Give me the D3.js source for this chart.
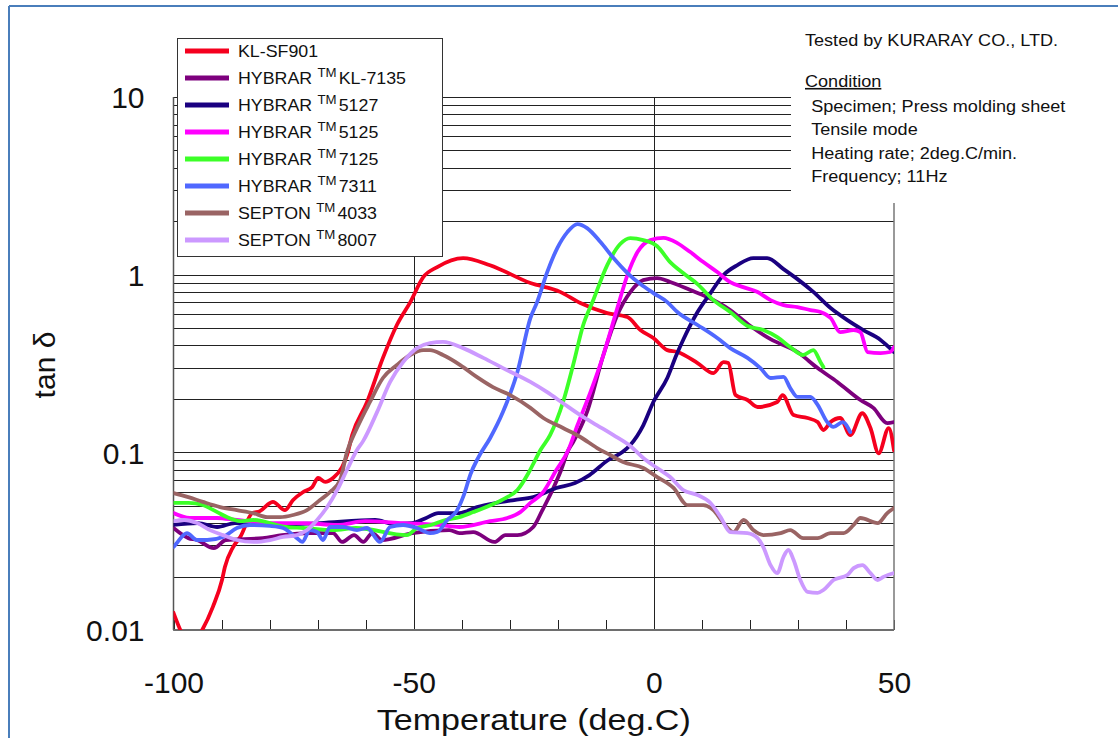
<!DOCTYPE html>
<html><head><meta charset="utf-8">
<script src="https://cdn.jsdelivr.net/npm/d3@7"></script>
<style>
body{margin:0;background:#fff}
svg{display:block;font-family:"Liberation Sans",Arial,sans-serif}
</style>
</head><body>
<svg id="c" width="1118" height="738"></svg>
<script>
// ---- data (temperature deg.C, tan delta) ----
const klsf901 = [[-100,0.0125],[-98.2,0.0095],[-96.5,0.008],[-94.5,0.0095],[-91.8,0.0135],[-89.9,0.0191],[-89.3,0.0226],[-87.6,0.0293],[-86.1,0.0334],[-83.6,0.0455],[-82.0,0.0467],[-79.9,0.0519],[-79.3,0.0526],[-76.8,0.0473],[-75.1,0.0539],[-73.0,0.0598],[-71.1,0.0638],[-69.9,0.0717],[-68.4,0.0682],[-66.8,0.0717],[-64.9,0.0827],[-63.9,0.096],[-62.8,0.125],[-59.7,0.192],[-56.4,0.340],[-53.5,0.521],[-50.7,0.701],[-48.0,0.969],[-45.1,1.104],[-39.7,1.24],[-34.1,1.13],[-25.7,0.897],[-19.5,0.80],[-15.3,0.692],[-9.7,0.608],[-5.5,0.577],[-2.8,0.488],[-0.1,0.44],[2.8,0.376],[4.9,0.367],[9.1,0.318],[12.4,0.279],[14.5,0.322],[15.5,0.318],[17.0,0.21],[19.5,0.197],[21.6,0.180],[25.7,0.192],[26.8,0.21],[29.1,0.162],[32.0,0.156],[34.1,0.148],[35.3,0.1335],[36.8,0.148],[38.8,0.156],[40.9,0.125],[43.4,0.166],[45.1,0.137],[46.8,0.0987],[48.9,0.137],[50,0.1026]];
const kl7135 = [[-100,0.0375],[-96.9,0.0329],[-95.1,0.0321],[-91.6,0.0289],[-89.1,0.0321],[-81.4,0.0329],[-77.4,0.0342],[-71.6,0.0351],[-66.8,0.0351],[-64.9,0.0313],[-62.4,0.0342],[-60.5,0.0313],[-58.6,0.0351],[-56.6,0.0321],[-50.3,0.0351],[-42.6,0.0365],[-40.5,0.0351],[-37.6,0.0356],[-33.2,0.0313],[-30.9,0.0342],[-28.4,0.0342],[-25.1,0.038],[-23.2,0.0473],[-21.1,0.0614],[-19.3,0.0795],[-17.8,0.103],[-16.8,0.1143],[-13.9,0.169],[-10.5,0.353],[-7.6,0.593],[-4.9,0.798],[-2.2,0.932],[0.7,0.957],[3.4,0.909],[7.6,0.819],[11.1,0.748],[15.9,0.632],[20.1,0.514],[24.3,0.434],[29.9,0.367],[34.1,0.298],[38.2,0.249],[43.0,0.197],[45.7,0.178],[48.6,0.146],[50,0.148]];
const h5127 = [[-100,0.039],[-94.9,0.040],[-90.9,0.038],[-87.2,0.040],[-79.9,0.039],[-69.5,0.040],[-58.0,0.0416],[-54.3,0.0396],[-50.3,0.040],[-47.4,0.0427],[-44.9,0.0455],[-40.5,0.0455],[-36.8,0.0492],[-32.8,0.0519],[-29.1,0.0539],[-25.1,0.056],[-20.3,0.063],[-16.4,0.0672],[-13.4,0.0745],[-9.5,0.0905],[-6.6,0.100],[-4.9,0.110],[-2.2,0.142],[-0.1,0.192],[2.8,0.262],[4.7,0.353],[6.1,0.429],[9.1,0.616],[11.8,0.788],[14.5,0.995],[17.4,1.132],[20.7,1.24],[23.6,1.24],[27.0,1.075],[29.9,0.944],[33.2,0.80],[36.8,0.649],[40.3,0.555],[43.6,0.488],[47.2,0.429],[50,0.367]];
const h5125 = [[-100,0.0455],[-96.6,0.0427],[-91.0,0.0427],[-86.8,0.0416],[-79.9,0.040],[-73.0,0.040],[-65.9,0.039],[-60.1,0.041],[-52.2,0.040],[-44.5,0.039],[-40.5,0.038],[-34.1,0.041],[-30.5,0.0427],[-27.8,0.0461],[-25.7,0.0519],[-23.2,0.059],[-20.3,0.0795],[-17.8,0.103],[-15.9,0.142],[-13.2,0.218],[-10.5,0.353],[-7.6,0.649],[-5.5,0.995],[-3.4,1.34],[-0.7,1.565],[2.0,1.61],[4.9,1.506],[7.6,1.34],[10.3,1.177],[13.2,1.034],[15.9,0.909],[18.6,0.851],[21.6,0.798],[24.3,0.719],[27.0,0.674],[29.9,0.657],[32.6,0.632],[34.7,0.616],[36.8,0.570],[38.8,0.475],[41.6,0.488],[43.0,0.475],[44.5,0.367],[47.2,0.362],[49.2,0.367],[50,0.391]];
const h7125 = [[-100,0.0519],[-96.9,0.0519],[-93.9,0.0505],[-90.9,0.0461],[-88.9,0.0432],[-86.1,0.041],[-83.4,0.0416],[-76.6,0.038],[-73.0,0.0375],[-66.8,0.0365],[-62.0,0.0375],[-51.4,0.0342],[-49.3,0.0375],[-46.4,0.039],[-43.4,0.0416],[-40.5,0.0432],[-37.6,0.0461],[-33.9,0.0505],[-30.9,0.0553],[-28.4,0.0614],[-26.1,0.0765],[-24.7,0.0905],[-23.6,0.103],[-21.6,0.125],[-18.9,0.192],[-16.8,0.310],[-14.7,0.521],[-12.6,0.720],[-9.7,1.132],[-7.0,1.487],[-4.9,1.607],[-2.2,1.565],[0.7,1.445],[3.4,1.177],[6.1,1.021],[9.1,0.885],[12.4,0.719],[15.9,0.616],[19.5,0.514],[22.8,0.488],[25.7,0.445],[28.4,0.391],[31.1,0.353],[33.2,0.376],[34.7,0.322],[35.3,0.302]];
const h7311 = [[-100,0.0293],[-99.3,0.0309],[-97.2,0.0351],[-95.1,0.0321],[-93.0,0.0321],[-89.7,0.0334],[-86.8,0.0375],[-84.1,0.039],[-79.9,0.0385],[-77.2,0.0375],[-74.3,0.0329],[-73.2,0.0313],[-71.6,0.0365],[-70.1,0.0356],[-68.9,0.0321],[-67.4,0.038],[-64.7,0.038],[-61.8,0.0365],[-59.7,0.0375],[-57.0,0.0313],[-54.9,0.038],[-52.2,0.039],[-49.3,0.0375],[-46.6,0.0351],[-45.1,0.0356],[-43.0,0.0416],[-41.0,0.047],[-39.5,0.058],[-38.2,0.075],[-36.5,0.094],[-34.1,0.120],[-31.4,0.169],[-28.4,0.283],[-25.7,0.570],[-24.3,0.701],[-22.2,1.034],[-20.1,1.411],[-18.0,1.736],[-15.9,1.926],[-13.9,1.829],[-11.1,1.526],[-8.4,1.24],[-5.5,1.021],[-2.8,0.885],[-0.1,0.788],[2.8,0.701],[4.9,0.616],[9.1,0.521],[13.2,0.44],[15.9,0.386],[19.5,0.340],[22.2,0.298],[24.3,0.262],[27.0,0.266],[28.4,0.230],[29.9,0.205],[32.6,0.205],[34.1,0.185],[36.1,0.148],[37.4,0.139],[39.3,0.148],[40.9,0.130]];
const s4033 = [[-100,0.059],[-96.9,0.056],[-93.9,0.0526],[-90.3,0.0492],[-86.8,0.0473],[-83.4,0.0455],[-80.5,0.0432],[-77.8,0.0432],[-75.1,0.0444],[-72.2,0.0473],[-69.5,0.0539],[-67.4,0.0598],[-65.3,0.0699],[-63.9,0.100],[-61.8,0.137],[-59.1,0.192],[-56.4,0.262],[-53.5,0.310],[-50.7,0.353],[-48.0,0.376],[-46.6,0.376],[-43.9,0.353],[-40.3,0.310],[-36.8,0.265],[-33.5,0.233],[-29.9,0.21],[-25.7,0.178],[-23.0,0.156],[-18.9,0.137],[-15.3,0.122],[-11.8,0.1057],[-9.1,0.0966],[-6.4,0.0882],[-2.2,0.0816],[0.7,0.0726],[4.1,0.063],[7.0,0.0505],[10.3,0.0505],[12.4,0.0473],[14.5,0.040],[16.6,0.0356],[18.7,0.0416],[20.7,0.0365],[22.8,0.0342],[26.4,0.0351],[28.4,0.0365],[31.1,0.0329],[34.1,0.0329],[36.8,0.0351],[39.5,0.0351],[41.6,0.039],[43.0,0.0427],[46.6,0.040],[48.6,0.0455],[50,0.0486]];
const s8007 = [[-100,0.041],[-97.8,0.0416],[-95.1,0.040],[-92.4,0.0365],[-89.7,0.0342],[-86.8,0.0321],[-83.4,0.0313],[-79.9,0.0321],[-77.2,0.0334],[-74.3,0.0342],[-72.2,0.0365],[-70.1,0.0416],[-68.0,0.0492],[-65.9,0.0614],[-63.9,0.0795],[-61.8,0.103],[-60.5,0.116],[-57.6,0.169],[-54.9,0.249],[-52.2,0.322],[-49.3,0.386],[-46.6,0.412],[-43.9,0.418],[-39.7,0.386],[-35.5,0.340],[-31.4,0.298],[-25.7,0.249],[-22.2,0.218],[-18.9,0.189],[-15.3,0.162],[-11.8,0.142],[-8.4,0.125],[-4.9,0.1085],[-2.2,0.0929],[0.7,0.0816],[3.4,0.0726],[6.1,0.0614],[9.1,0.0575],[11.8,0.0519],[13.9,0.0432],[15.9,0.0356],[19.5,0.0351],[21.6,0.0329],[22.8,0.0293],[24.3,0.0232],[25.7,0.0209],[27.0,0.0258],[28.0,0.0282],[29.1,0.0248],[30.5,0.0191],[32.0,0.0164],[34.1,0.0162],[35.3,0.0168],[37.4,0.0191],[40.3,0.0204],[41.6,0.0223],[43.4,0.0232],[45.1,0.0209],[46.6,0.0191],[47.8,0.0199],[50,0.0209]];

const seriesData = [klsf901, kl7135, h5127, h5125, h7125, h7311, s4033, s8007];
const legendPrefix = ["KL-SF901","HYBRAR","HYBRAR","HYBRAR","HYBRAR","HYBRAR","SEPTON","SEPTON"];
const legendSuffix = ["","KL-7135","5127","5125","7125","7311","4033","8007"];
const seriesColors = ["#f5001e","#7d007d","#1a0080","#ff00ff","#3cff28","#5068ff","#9a6464","#cc99ff"];
const xLabelTicks = [-100,-50,0,50];
const yLabelTicks = [0.01,0.1,1,10];
const conditionLines = ["Specimen; Press molding sheet","Tensile mode","Heating rate; 2deg.C/min.","Frequency; 11Hz"];

// ---- layout ----
const L = 173.5, R = 894, T = 97, B = 630;
const svg = d3.select("#c");
const x = d3.scaleLinear().domain([-100,50]).range([L,R]);
const y = d3.scaleLog().domain([0.01,10]).range([B,T]);

// outer frame
svg.append("line").attr("x1",9).attr("x2",1118).attr("y1",6).attr("y2",6).attr("stroke","#4a7ebb").attr("stroke-width",2);
svg.append("line").attr("x1",9).attr("x2",9).attr("y1",6).attr("y2",738).attr("stroke","#4a7ebb").attr("stroke-width",2);

// horizontal grid
svg.append("g").selectAll("line").data(y.ticks()).join("line")
  .attr("x1",L).attr("x2",R).attr("y1",d=>Math.round(y(d))+0.5).attr("y2",d=>Math.round(y(d))+0.5)
  .attr("stroke","#222").attr("stroke-width",1);
// vertical grid at -50 and 0
svg.append("g").selectAll("line").data([-50,0]).join("line")
  .attr("x1",d=>Math.round(x(d))+0.5).attr("x2",d=>Math.round(x(d))+0.5).attr("y1",T).attr("y2",B)
  .attr("stroke","#222").attr("stroke-width",1);
// minor x ticks (inward)
svg.append("g").selectAll("line").data(x.ticks(15)).join("line")
  .attr("x1",d=>Math.round(x(d))+0.5).attr("x2",d=>Math.round(x(d))+0.5).attr("y1",B-10).attr("y2",B)
  .attr("stroke","#222").attr("stroke-width",1);
// frame lines
svg.append("line").attr("x1",L).attr("x2",L).attr("y1",T).attr("y2",B).attr("stroke","#555").attr("stroke-width",1.5);
svg.append("line").attr("x1",R).attr("x2",R).attr("y1",T).attr("y2",B).attr("stroke","#777").attr("stroke-width",1.5);
svg.append("line").attr("x1",L).attr("x2",R).attr("y1",B).attr("y2",B).attr("stroke","#6e6e6e").attr("stroke-width",2);

// curves
svg.append("clipPath").attr("id","clip").append("rect").attr("x",L).attr("y",T).attr("width",R-L).attr("height",B-T);
const line = d3.line().x(d=>x(d[0])).y(d=>y(d[1])).curve(d3.curveMonotoneX);
svg.append("g").attr("clip-path","url(#clip)").selectAll("path").data(seriesData).join("path")
  .attr("d",line).attr("fill","none").attr("stroke",(d,i)=>seriesColors[i])
  .attr("stroke-width",3.8).attr("stroke-linejoin","round").attr("stroke-linecap","round");

// condition box (white, covers grid)
svg.append("rect").attr("x",791).attr("y",14).attr("width",320).attr("height",189).attr("fill","#fff");
const cg = svg.append("g").attr("transform","translate(805,0) scale(1.13,1)");
cg.append("text").attr("x",0).attr("y",46).attr("font-size",16).attr("fill","#111").text("Tested by KURARAY CO., LTD.");
cg.append("text").attr("x",0).attr("y",87).attr("font-size",16).attr("fill","#111").attr("text-decoration","underline").text("Condition");
cg.selectAll("text.cond").data(conditionLines).join("text").attr("class","cond")
  .attr("x",5.5).attr("y",(d,i)=>112+i*23.4).attr("font-size",16).attr("fill","#111").text(d=>d);

// legend
const lg = svg.append("g");
lg.append("rect").attr("x",177.5).attr("y",38.5).attr("width",265).attr("height",218).attr("fill","#fff").attr("stroke","#333").attr("stroke-width",1);
const rows = lg.selectAll("g.row").data(seriesColors).join("g").attr("class","row")
  .attr("transform",(d,i)=>`translate(0,${51+i*27})`);
rows.append("line").attr("x1",185).attr("x2",229).attr("y1",0).attr("y2",0).attr("stroke",d=>d).attr("stroke-width",5);
const lt = rows.append("text").attr("transform","translate(238,6) scale(1.06,1)").attr("font-size",16.8).attr("fill","#111");
lt.append("tspan").text((d,i)=>legendPrefix[i]);
lt.filter((d,i)=>legendSuffix[i]!=="").each(function(d){
  const t = d3.select(this); const k = seriesColors.indexOf(d);
  t.append("tspan").attr("dx",5).attr("dy",-7).attr("font-size",12.5).text("TM");
  t.append("tspan").attr("dx",2).attr("dy",7).text(legendSuffix[k]);
});

// axes labels via d3 axes
const xa = svg.append("g").attr("transform",`translate(0,${B})`)
  .call(d3.axisBottom(x).tickValues(xLabelTicks).tickSize(0).tickPadding(42).tickFormat(d=>String(d)));
xa.select(".domain").remove();
xa.selectAll("text").attr("font-size",30).attr("font-family","Liberation Sans, Arial, sans-serif").attr("fill","#111");
const ya = svg.append("g").attr("transform",`translate(${L},0)`)
  .call(d3.axisLeft(y).tickValues(yLabelTicks).tickSize(0).tickPadding(29).tickFormat(d=>String(d)));
ya.select(".domain").remove();
ya.selectAll("text").attr("font-size",30).attr("font-family","Liberation Sans, Arial, sans-serif").attr("fill","#111").attr("dy","0.36em");

svg.append("text").attr("x",(L+R)/2).attr("y",730).attr("text-anchor","middle").attr("font-size",30)
  .attr("textLength",314).attr("lengthAdjust","spacingAndGlyphs").attr("fill","#111").text("Temperature (deg.C)");
svg.append("text").attr("transform","translate(55,365) rotate(-90)").attr("text-anchor","middle").attr("font-size",30)
  .attr("fill","#111").text("tan δ");
</script>
</body></html>
